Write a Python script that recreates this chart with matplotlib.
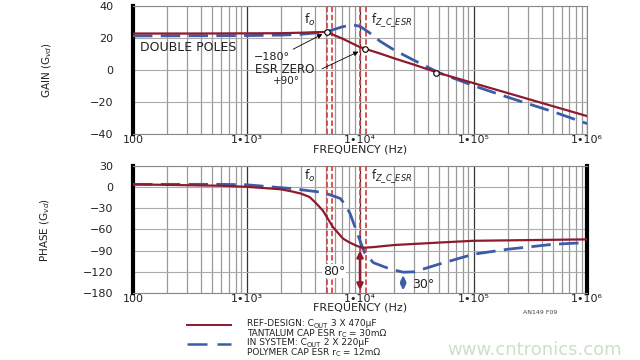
import numpy as np
import matplotlib.pyplot as plt
from matplotlib.ticker import FixedLocator, FixedFormatter, LogLocator, NullFormatter

# Data (frequency in Hz)
freq_gain_ref = [100, 300, 1e3, 2e3, 3e3, 4e3, 5.1e3, 6e3, 7e3, 8e3, 1e4, 1.5e4,
                 2e4, 3e4, 5e4, 1e5, 2e5, 5e5, 1e6]
gain_ref = [22.8, 22.8, 22.9, 23.0, 23.3, 23.6, 23.8, 21.6, 19.6, 17.6, 14.3, 10.3,
            7.3, 3.3, -2.0, -8.2, -14.4, -22.6, -28.8]

freq_gain_sys = [100, 1e3, 2e3, 3e3, 5e3, 6e3, 7e3, 8.5e3, 1e4, 1.2e4, 1.5e4,
                 2e4, 3e4, 5e4, 1e5, 2e5, 5e5, 1e6]
gain_sys = [21.3, 21.5, 21.8, 22.3, 23.8, 25.5, 27.0, 28.3, 27.3, 23.5, 18.0,
            12.5, 6.0, -1.8, -9.8, -17.0, -26.0, -33.5]

freq_phase_ref = [100, 600, 1e3, 1.5e3, 2e3, 2.5e3, 3e3, 3.6e3, 4e3, 4.7e3, 5.8e3,
                  7.1e3, 8e3, 9.3e3, 1.05e4, 1.3e4, 2e4, 5e4, 1e5, 1e6]
phase_ref = [4, 2, 0.5, -1.5, -3, -6, -9, -14, -21, -33, -57,
             -73, -78, -83, -86, -85, -82, -78.5, -76, -74]

freq_phase_sys = [100, 600, 1e3, 2.5e3, 4.75e3, 6.7e3, 7.5e3, 8.2e3, 9.3e3, 1.04e4,
                  1.1e4, 1.31e4, 1.84e4, 2.4e4, 3e4, 5e4, 1e5, 2e5, 5e5, 1e6]
phase_sys = [4, 4, 3.4, -2, -7.5, -16, -26, -38, -62, -83,
             -93, -107, -116, -120.5, -120, -109, -95, -88, -81, -78.5]

f_o = [5.1e3, 5.65e3]
f_z = [1.0e4, 1.13e4]

x_ticks = [1e2, 1e3, 1e4, 1e5, 1e6]
x_labels = ['100', '1\u202210\u00b3', '1\u202210\u2074', '1\u202210\u2075', '1\u202210\u2076']
gain_ticks = [40, 20, 0, -20, -40]
gain_labels = ['40', '20', '0', '\u221220', '\u221240']
phase_ticks = [30, 0, -30, -60, -90, -120, -150]
phase_labels = ['30', '0', '\u221230', '\u221260', '\u221290', '\u2212120', '\u2212180']

# legend lines as (text, is_subscript) pieces
legend_lines = [[('REF-DESIGN: C', False), ('OUT', True), (' 3 X 470\u00b5F', False)],
                [('TANTALUM CAP ESR r', False), ('C', True), (' = 30m\u03a9', False)],
                [('IN SYSTEM: C', False), ('OUT', True), (' 2 X 220\u00b5F', False)],
                [('POLYMER CAP ESR r', False), ('C', True), (' = 12m\u03a9', False)]]

RED = '#8e1a2e'
BLUE = '#3c5ca8'
VRED = '#d8484a'
TXT = '#222222'

plt.rcParams['font.family'] = ['DejaVu Sans']
fig = plt.figure(figsize=(6.4, 3.6), dpi=100)
ax1 = fig.add_axes([133 / 640, 1 - 134 / 360, 454 / 640, 128 / 360])
ax2 = fig.add_axes([133 / 640, 1 - 293 / 360, 454 / 640, 127 / 360])


def style_axis(ax, yt, yl, ylim):
    ax.set_xscale('log')
    ax.set_xlim(100, 1e6)
    ax.set_ylim(*ylim)
    ax.xaxis.set_major_locator(FixedLocator(x_ticks))
    ax.xaxis.set_major_formatter(FixedFormatter(x_labels))
    ax.xaxis.set_minor_locator(LogLocator(base=10, subs=np.arange(2, 10)))
    ax.xaxis.set_minor_formatter(NullFormatter())
    ax.yaxis.set_major_locator(FixedLocator(yt))
    ax.yaxis.set_major_formatter(FixedFormatter(yl))
    ax.grid(True, which='major', axis='x', color='#333333', lw=0.9)
    ax.grid(True, which='minor', axis='x', color='#999999', lw=0.9)
    ax.grid(True, which='major', axis='y', color='#aaaaaa', lw=0.8)
    ax.tick_params(which='both', length=0)
    ax.tick_params(axis='both', labelsize=8, colors=TXT)
    ax.tick_params(axis='y', pad=14)
    ax.tick_params(axis='x', pad=1)
    for s in ax.spines.values():
        s.set_color('#888888')
        s.set_linewidth(0.8)
    ax.spines['left'].set_color('black')
    ax.spines['left'].set_linewidth(3)
    ax.set_xlabel('FREQUENCY (Hz)', fontsize=8, labelpad=-1, color=TXT)
    for v in f_o + f_z:
        ax.axvline(v, color=VRED, ls=(0, (3, 1.5)), lw=1.3, zorder=3)


style_axis(ax1, gain_ticks, gain_labels, (-40, 40))
style_axis(ax2, phase_ticks, phase_labels, (-150, 30))
ax2.spines['right'].set_color('black')
ax2.spines['right'].set_linewidth(3)

# Gain
ax1.plot(freq_gain_sys, gain_sys, color=BLUE, lw=2, ls=(0, (7, 3)), zorder=4)
ax1.plot(freq_gain_ref, gain_ref, color=RED, lw=1.6, zorder=5)
ax1.plot([5.1e3, 1.1e4, 4.7e4], [23.8, 13.1, -1.9], 'o', ms=4, mfc='white',
         mec='black', mew=0.8, zorder=6)
ax1.set_ylabel('GAIN (G$_{vd}$)', fontsize=7.5, labelpad=26, color=TXT)
ax1.text(3.6e3, 31, 'f$_o$', fontsize=9, ha='center', va='center', color=TXT)
ax1.text(1.25e4, 31, 'f$_{Z\\_C\\_ESR}$', fontsize=8.5, ha='left', va='center', color=TXT)
ax1.text(115, 14, 'DOUBLE POLES', fontsize=9, ha='left', va='center', color=TXT,
         zorder=7)
ax1.text(2.4e3, 8.3, '\u2212180\u00b0', fontsize=8, ha='right', va='center', color=TXT)
ax1.text(4.0e3, 0.2, 'ESR ZERO', fontsize=8.5, ha='right', va='center', color=TXT)
ax1.text(2.95e3, -6.6, '+90\u00b0', fontsize=7.5, ha='right', va='center', color=TXT)
ax1.annotate('', xy=(4.9e3, 23.2), xytext=(2.45e3, 12.2),
             arrowprops=dict(arrowstyle='-|>', color='black', lw=0.6, mutation_scale=7))
ax1.annotate('', xy=(1.02e4, 12.2), xytext=(4.4e3, 0),
             arrowprops=dict(arrowstyle='-|>', color='black', lw=0.6, mutation_scale=7))

# Phase
ax2.plot(freq_phase_sys, phase_sys, color=BLUE, lw=2, ls=(0, (7, 3)), zorder=4)
ax2.plot(freq_phase_ref, phase_ref, color=RED, lw=1.6, zorder=5)
ax2.set_ylabel('PHASE (G$_{vd}$)', fontsize=7.5, labelpad=22, color=TXT)
ax2.text(3.6e3, 16, 'f$_o$', fontsize=9, ha='center', va='center', color=TXT)
ax2.text(1.25e4, 16, 'f$_{Z\\_C\\_ESR}$', fontsize=8.5, ha='left', va='center', color=TXT)
ax2.annotate('', xy=(1.0e4, -86), xytext=(1.0e4, -150),
             arrowprops=dict(arrowstyle='<|-|>', color=RED, lw=1.8, mutation_scale=9),
             zorder=6)
ax2.text(7.4e3, -119, '80\u00b0', fontsize=9, ha='right', va='center', color=TXT,
         bbox=dict(boxstyle='square,pad=0.05', fc='white', ec='none'), zorder=6)
ax2.annotate('', xy=(2.4e4, -121), xytext=(2.4e4, -150),
             arrowprops=dict(arrowstyle='<|-|>', color=BLUE, lw=1.5, mutation_scale=8))
ax2.text(2.9e4, -138, '30\u00b0', fontsize=9, ha='left', va='center', color=TXT)

fig.text(540 / 640, 1 - 313 / 360, 'AN149 F09', fontsize=4.5, ha='center', va='center',
         color='#444444')

# Legend
fig.add_artist(plt.Line2D([187 / 640, 231 / 640], [1 - 325 / 360] * 2, color=RED, lw=1.4))
fig.add_artist(plt.Line2D([187 / 640, 231 / 640], [1 - 344 / 360] * 2, color=BLUE, lw=1.8,
                          ls=(0, (8, 4))))
renderer = fig.canvas.get_renderer()
for i, pieces in enumerate(legend_lines):
    x = 247.0
    base = 326.5 + 9.4 * i
    for txt, sub in pieces:
        y = base + (1.5 if sub else 0)
        t = fig.text(x / 640, 1 - y / 360, txt, fontsize=4.8 if sub else 6.5,
                     ha='left', va='baseline', color=TXT)
        x += t.get_window_extent(renderer).width
fig.text(535 / 640, 1 - 350 / 360, 'www.cntronics.com', fontsize=13, ha='center',
         va='center', color='#9ccc90', alpha=0.55)

fig.savefig('out.png', dpi=100)
